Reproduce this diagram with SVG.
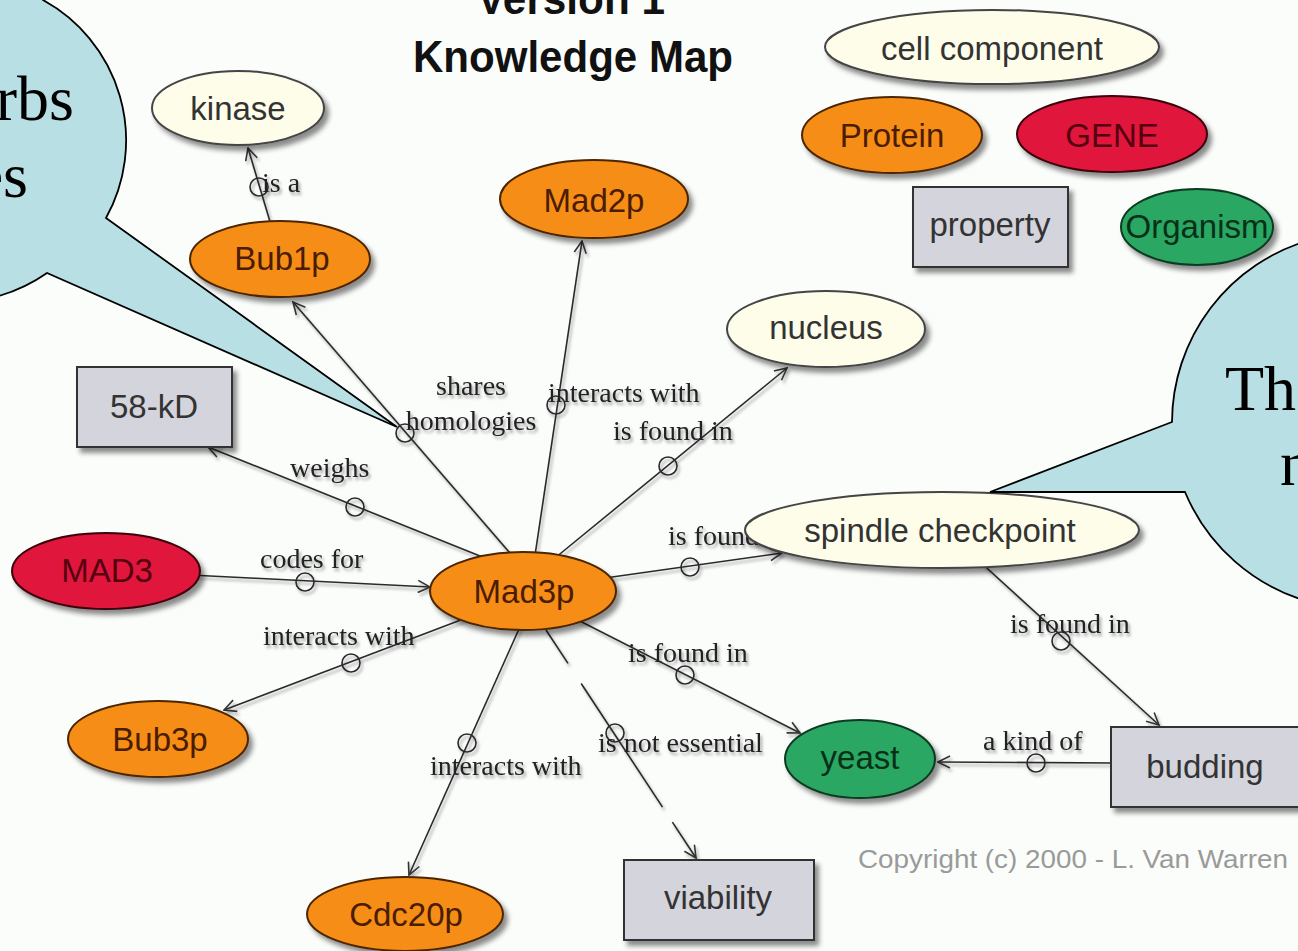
<svg xmlns="http://www.w3.org/2000/svg" width="1298" height="951" viewBox="0 0 1298 951">
<defs>
<filter id="sh" x="-20%" y="-20%" width="150%" height="160%">
<feDropShadow dx="4" dy="5" stdDeviation="2.5" flood-color="#000" flood-opacity="0.45"/>
</filter>
<filter id="tsh" x="-10%" y="-30%" width="130%" height="170%">
<feDropShadow dx="2" dy="3" stdDeviation="1.5" flood-color="#000" flood-opacity="0.35"/>
</filter>
<marker id="arr" viewBox="0 0 14 14" refX="13" refY="7" markerWidth="14" markerHeight="14" markerUnits="userSpaceOnUse" orient="auto">
<path d="M1,1 L13,7 L1,13" fill="none" stroke="#333" stroke-width="1.6"/>
</marker>
</defs>
<style>
.bg{fill:#fbfdfb}
.title{font-family:"Liberation Sans",Arial,sans-serif;font-weight:bold;font-size:45px;fill:#111;text-anchor:middle}
.nl{font-family:"Liberation Sans",Arial,sans-serif;font-size:33px;text-anchor:middle}
.el{font-family:"Liberation Serif","Times New Roman",serif;font-size:28px;fill:#222}
.orange{fill:#f68d14;stroke:#4b2500;stroke-width:2}
.cream{fill:#fdfdea;stroke:#444;stroke-width:2}
.red{fill:#e0123c;stroke:#3a0008;stroke-width:2}
.green{fill:#2aa763;stroke:#0e3b20;stroke-width:2}
.box{fill:#d4d4dc;stroke:#333;stroke-width:2}
.to{fill:#4a1c00}
.tc{fill:#333}
.tr{fill:#55000f}
.tg{fill:#083018}
.ln{fill:none;stroke:#2a2a2a;stroke-width:1.6}
.dot{fill:none;stroke:#2a2a2a;stroke-width:1.6}
.bubble{fill:#b8dfe3;stroke:#000;stroke-width:1.8}
.bt{font-family:"Liberation Serif","Times New Roman",serif;font-size:64px;fill:#000}
.copy{font-family:"Liberation Sans",Arial,sans-serif;font-size:26px;fill:#9a9a9a}
</style>
<rect class="bg" x="0" y="0" width="1298" height="951"/>

<g id="title">
<text class="title" x="571" y="14" textLength="188" lengthAdjust="spacingAndGlyphs">Version 1</text>
<text class="title" x="573" y="72" textLength="320" lengthAdjust="spacingAndGlyphs">Knowledge Map</text>
</g>

<g id="connectors">
<g filter="url(#tsh)">
<line class="ln" x1="274" y1="235" x2="248" y2="148" marker-end="url(#arr)"/>
<line class="ln" x1="516" y1="560" x2="293" y2="302" marker-end="url(#arr)"/>
<line class="ln" x1="534" y1="562" x2="582" y2="241" marker-end="url(#arr)"/>
<line class="ln" x1="555" y1="558" x2="787" y2="368" marker-end="url(#arr)"/>
<line class="ln" x1="485" y1="558" x2="208" y2="447" marker-end="url(#arr)"/>
<line class="ln" x1="190" y1="575" x2="430" y2="587" marker-end="url(#arr)"/>
<line class="ln" x1="605" y1="578" x2="782" y2="553" marker-end="url(#arr)"/>
<line class="ln" x1="466" y1="618" x2="224" y2="710" marker-end="url(#arr)"/>
<line class="ln" x1="523" y1="620" x2="409" y2="875" marker-end="url(#arr)"/>
<line class="ln" x1="546" y1="630" x2="696" y2="858" stroke-dasharray="40 24 148 18 60" marker-end="url(#arr)"/>
<line class="ln" x1="570" y1="616" x2="800" y2="733" marker-end="url(#arr)"/>
<line class="ln" x1="978" y1="560" x2="1159" y2="725" marker-end="url(#arr)"/>
<line class="ln" x1="1115" y1="763" x2="938" y2="762" marker-end="url(#arr)"/>
<circle class="dot" cx="259" cy="187" r="9"/>
<circle class="dot" cx="405" cy="433" r="9"/>
<circle class="dot" cx="556" cy="405" r="9"/>
<circle class="dot" cx="668" cy="466" r="9"/>
<circle class="dot" cx="355" cy="507" r="9"/>
<circle class="dot" cx="305" cy="582" r="9"/>
<circle class="dot" cx="690" cy="567" r="9"/>
<circle class="dot" cx="351" cy="663" r="9"/>
<circle class="dot" cx="467" cy="743" r="9"/>
<circle class="dot" cx="615" cy="733" r="9"/>
<circle class="dot" cx="685" cy="675" r="9"/>
<circle class="dot" cx="1061" cy="641" r="9"/>
<circle class="dot" cx="1036" cy="763" r="9"/>
<text class="el" x="262" y="192">is a</text>
<text class="el" x="471" y="395" text-anchor="middle">shares</text>
<text class="el" x="471" y="430" text-anchor="middle">homologies</text>
<text class="el" x="548" y="402">interacts with</text>
<text class="el" x="613" y="440">is found in</text>
<text class="el" x="290" y="477">weighs</text>
<text class="el" x="260" y="568">codes for</text>
<text class="el" x="668" y="545">is found in</text>
<text class="el" x="263" y="645">interacts with</text>
<text class="el" x="430" y="775">interacts with</text>
<text class="el" x="598" y="752">is not essential</text>
<text class="el" x="628" y="662">is found in</text>
<text class="el" x="1010" y="633">is found in</text>
<text class="el" x="983" y="750">a kind of</text>
</g>
</g>

<g id="kinase"><ellipse class="cream" filter="url(#sh)" cx="238" cy="108" rx="86" ry="37"/><text class="nl tc" x="238" y="120">kinase</text></g>
<g id="Bub1p"><ellipse class="orange" filter="url(#sh)" cx="280" cy="259" rx="90" ry="38"/><text class="nl to" x="282" y="270">Bub1p</text></g>
<g id="Mad2p"><ellipse class="orange" filter="url(#sh)" cx="594" cy="199" rx="94" ry="39"/><text class="nl to" x="594" y="212">Mad2p</text></g>
<g id="cell-component"><ellipse class="cream" filter="url(#sh)" cx="992" cy="47" rx="167" ry="37"/><text class="nl tc" x="992" y="60">cell component</text></g>
<g id="Protein"><ellipse class="orange" filter="url(#sh)" cx="892" cy="135" rx="90" ry="38"/><text class="nl to" x="892" y="147">Protein</text></g>
<g id="GENE"><ellipse class="red" filter="url(#sh)" cx="1112" cy="134" rx="95" ry="38"/><text class="nl tr" x="1112" y="147">GENE</text></g>
<g id="property"><rect class="box" filter="url(#sh)" x="913" y="187" width="155" height="80"/><text class="nl tc" x="990" y="236">property</text></g>
<g id="Organism"><ellipse class="green" filter="url(#sh)" cx="1197" cy="227" rx="76" ry="38"/><text class="nl tg" x="1197" y="238">Organism</text></g>
<g id="nucleus"><ellipse class="cream" filter="url(#sh)" cx="826" cy="329" rx="99" ry="38"/><text class="nl tc" x="826" y="339">nucleus</text></g>
<g id="58-kD"><rect class="box" filter="url(#sh)" x="77" y="367" width="155" height="80"/><text class="nl tc" x="154" y="418">58-kD</text></g>
<g id="MAD3"><ellipse class="red" filter="url(#sh)" cx="106" cy="571" rx="94" ry="38"/><text class="nl tr" x="107" y="582">MAD3</text></g>
<g id="Mad3p"><ellipse class="orange" filter="url(#sh)" cx="523" cy="591" rx="93" ry="39"/><text class="nl to" x="524" y="603">Mad3p</text></g>
<g id="spindle-checkpoint"><ellipse class="cream" filter="url(#sh)" cx="942" cy="530" rx="197" ry="38"/><text class="nl tc" x="940" y="542">spindle checkpoint</text></g>
<g id="Bub3p"><ellipse class="orange" filter="url(#sh)" cx="158" cy="739" rx="90" ry="38"/><text class="nl to" x="160" y="751">Bub3p</text></g>
<g id="Cdc20p"><ellipse class="orange" filter="url(#sh)" cx="405" cy="914" rx="98" ry="37"/><text class="nl to" x="406" y="926">Cdc20p</text></g>
<g id="yeast"><ellipse class="green" filter="url(#sh)" cx="860" cy="759" rx="75" ry="39"/><text class="nl tg" x="860" y="769">yeast</text></g>
<g id="budding"><rect class="box" filter="url(#sh)" x="1111" y="727" width="200" height="80"/><text class="nl tc" x="1205" y="778">budding</text></g>
<g id="viability"><rect class="box" filter="url(#sh)" x="624" y="860" width="190" height="80"/><text class="nl tc" x="718" y="909">viability</text></g>

<g id="copyright"><text class="copy" x="858" y="868" textLength="430" lengthAdjust="spacingAndGlyphs">Copyright (c) 2000 - L. Van Warren</text></g>

<g id="bubble-left">
<path class="bubble" d="M -20,-20 L 30,-20 L 43,0 A 160 160 0 0 1 106,218 L 397,427 L 47,273 A 160 160 0 0 1 -20,300 Z"/>
<text class="bt" x="74" y="120" text-anchor="end">rbs</text>
<text class="bt" x="28" y="197" text-anchor="end">es</text>
</g>
<g id="bubble-right">
<path class="bubble" d="M 990,492 L 1172,422 A 190 190 0 0 1 1310,240 L 1310,602 A 190 190 0 0 1 1185,492 Z"/>
<text class="bt" x="1225" y="410">The</text>
<text class="bt" x="1280" y="485">n</text>
</g>
</svg>
